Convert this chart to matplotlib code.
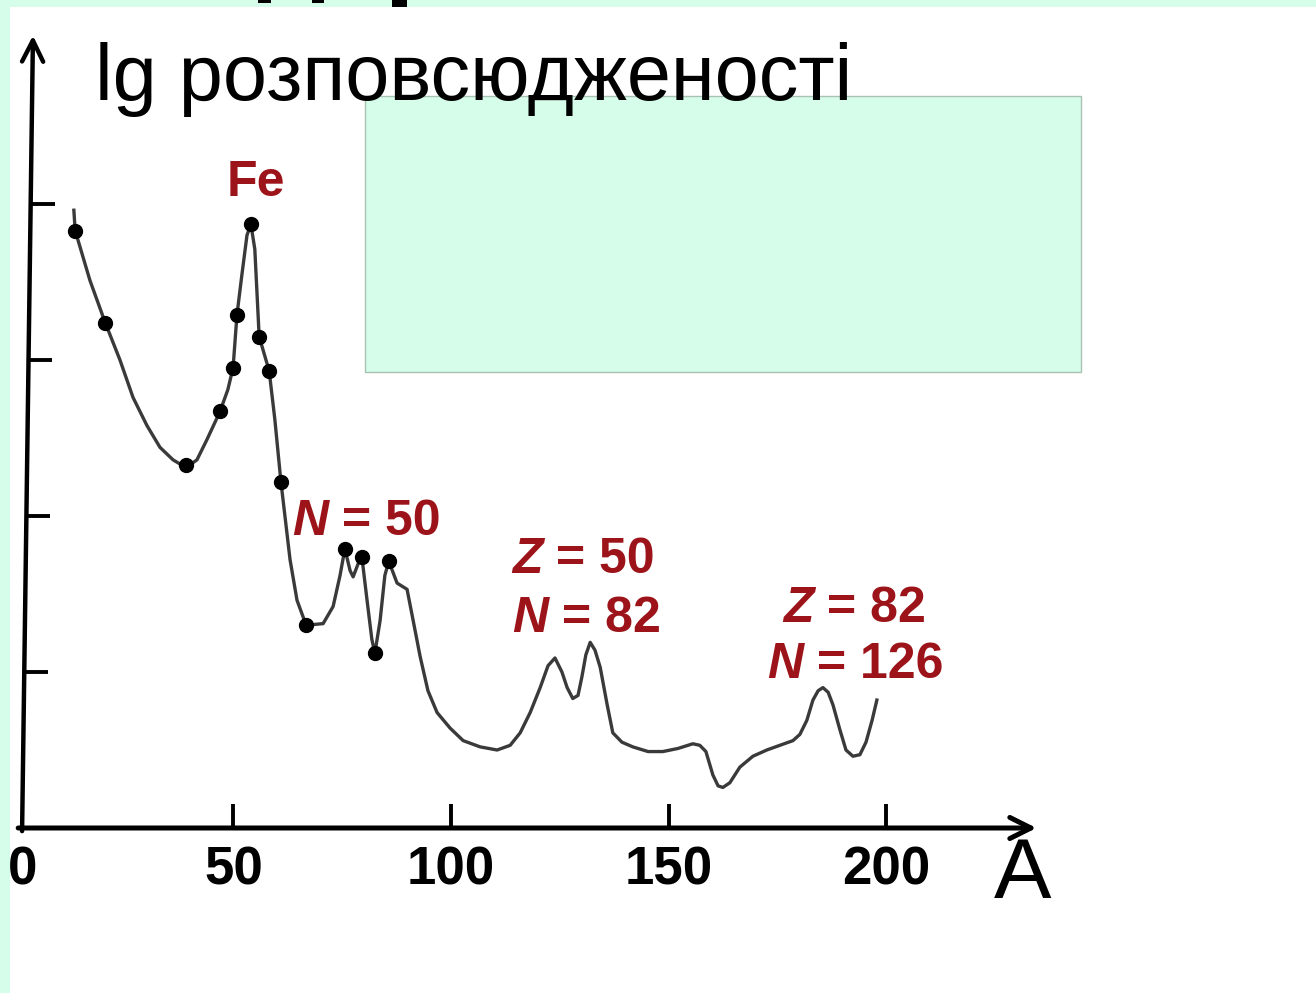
import matplotlib
matplotlib.use("Agg")
import matplotlib.pyplot as plt
from matplotlib.patches import Rectangle

plt.rcParams["font.family"] = ["Liberation Sans", "DejaVu Sans"]

# abundance curve (mass number A vs lg of abundance, arbitrary units)
mass_curve = [13.3, 13.6, 17.0, 20.5, 23.9, 26.9, 30.1, 33.1, 36.1, 39.1,
              41.6, 43.9, 46.9, 48.7, 49.9, 50.8, 51.9, 53.1, 54.0, 54.9,
              55.9, 58.2, 59.5, 60.9, 63.0, 64.6, 66.7, 70.6, 72.9, 74.5,
              75.6, 76.8, 77.5, 78.6, 79.5, 80.7, 81.8, 82.5, 83.7, 84.8,
              85.7, 87.6, 89.9, 91.3, 92.9, 94.7, 96.8, 99.8, 102.8, 106.7,
              110.6, 113.6, 115.9, 118.2, 120.5, 122.3, 123.9, 125.5, 126.7, 128.0,
              129.2, 130.1, 131.0, 132.0, 133.1, 134.3, 135.9, 137.2, 139.3, 141.8,
              145.3, 148.7, 152.2, 155.6, 157.2, 158.6, 160.2, 161.4, 162.5, 164.1,
              166.4, 169.4, 172.6, 175.6, 178.6, 180.2, 181.8, 183.2, 184.4, 185.5,
              186.7, 187.8, 189.4, 190.8, 192.4, 194.0, 195.4, 196.8, 197.9]
lg_curve = [3.96, 3.83, 3.51, 3.24, 3.00, 2.76, 2.58, 2.44, 2.36, 2.31,
            2.36, 2.49, 2.67, 2.81, 2.95, 3.29, 3.54, 3.80, 3.87, 3.71,
            3.15, 2.93, 2.62, 2.22, 1.72, 1.46, 1.30, 1.31, 1.42, 1.62,
            1.79, 1.65, 1.61, 1.69, 1.74, 1.46, 1.21, 1.12, 1.33, 1.62,
            1.71, 1.57, 1.53, 1.33, 1.10, 0.88, 0.74, 0.64, 0.56, 0.52,
            0.50, 0.53, 0.61, 0.74, 0.90, 1.04, 1.09, 1.00, 0.90, 0.83,
            0.85, 0.97, 1.11, 1.19, 1.14, 1.03, 0.79, 0.61, 0.55, 0.52,
            0.49, 0.49, 0.51, 0.54, 0.53, 0.49, 0.34, 0.27, 0.26, 0.29,
            0.39, 0.46, 0.50, 0.53, 0.56, 0.60, 0.69, 0.82, 0.88, 0.90,
            0.87, 0.79, 0.63, 0.50, 0.46, 0.47, 0.55, 0.69, 0.82]

# measured points
mass_pts = [13.6, 20.5, 39.1, 46.9, 49.9, 50.8, 54.0, 55.9, 58.2, 60.9,
            66.7, 75.6, 79.5, 82.5, 85.7]
lg_pts = [3.83, 3.24, 2.33, 2.67, 2.95, 3.29, 3.87, 3.15, 2.93, 2.22,
          1.30, 1.79, 1.74, 1.12, 1.71]

x_ticks = [0, 50, 100, 150, 200]
y_ticks = [1, 2, 3, 4]

# labels: (italic letter, rest, x, baseline y)
magic_labels = [
    ("N", " = 50", 63.4, 1.88),
    ("Z", " = 50", 114.0, 1.635),
    ("N", " = 82", 114.0, 1.256),
    ("Z", " = 82", 176.3, 1.32),
    ("N", " = 126", 172.6, 0.96),
]

MINT = "#d6fcea"
RED = "#9c1419"
W, H = 1316, 993

fig = plt.figure(figsize=(W / 100, H / 100), dpi=100, facecolor=MINT)
ax = fig.add_axes([0, 0, 1, 1])
ax.set_xlim(-16 / 4.35, 1300 / 4.35)
ax.set_ylim(-165 / 156, 828 / 156)
ax.axis("off")

# white page
fig.add_artist(Rectangle((10 / W, 0), 1, 1 - 7 / H, transform=fig.transFigure,
                         facecolor="white", edgecolor="none", zorder=-5))
# bits of a cut off heading above
for x0, x1, h in [(258, 271, 3), (312, 324, 3), (392, 407, 7)]:
    fig.add_artist(Rectangle((x0 / W, 1 - h / H), (x1 - x0) / W, h / H,
                             transform=fig.transFigure, facecolor="black",
                             edgecolor="none", zorder=-4))
# empty mint box
ax.add_patch(Rectangle((365 / W, 1 - 372 / H), (1081 - 365) / W, (372 - 96) / H,
                       transform=fig.transFigure, facecolor=MINT,
                       edgecolor="#a9c2b6", lw=1, zorder=1))

# axes with arrows
ax.annotate("", xy=(3.9, 5.08), xytext=(1.4, -0.02),
            arrowprops=dict(arrowstyle="->", lw=3.2, color="black",
                            mutation_scale=38, shrinkA=0, shrinkB=0))
ax.annotate("", xy=(234.6, 0), xytext=(0.5, 0),
            arrowprops=dict(arrowstyle="->", lw=3.6, color="black",
                            mutation_scale=38, shrinkA=0, shrinkB=0))

for t in x_ticks[1:]:
    ax.plot([t, t], [0, 0.155], color="black", lw=2.8, solid_capstyle="butt")
for t in y_ticks:
    x_ax = 1.4 + 2.5 * t / 5.06
    ax.plot([x_ax, x_ax + 5.5], [t, t], color="black", lw=2.8,
            solid_capstyle="butt")

tick_font = dict(fontsize=38, fontweight="bold", ha="center", va="center")
for t in x_ticks:
    ax.text(1.6 if t == 0 else t, -0.27, str(t), **tick_font)
ax.text(231.5, -0.31, "A", fontsize=62, ha="center", va="center")
ax.text(18.2, 4.667, "lg розповсюдженості", fontsize=57, va="baseline",
        zorder=3)

# curve and points
ax.plot(mass_curve, lg_curve, color="#3a3a3a", lw=2.4,
        solid_joinstyle="round", zorder=4)
ax.plot(mass_pts, lg_pts, "o", color="black", ms=10, zorder=5)

ax.text(55.2, 4.05, "Fe", color=RED, fontsize=36, fontweight="bold",
        ha="center", va="baseline")
for letter, rest, x, y in magic_labels:
    t1 = ax.text(x, y, letter, color=RED, fontsize=36, fontweight="bold",
                 fontstyle="italic", va="baseline")
    ax.annotate(rest, xy=(1, 0), xycoords=t1, color=RED, fontsize=36,
                fontweight="bold", va="bottom", ha="left")

fig.savefig("out.png", dpi=100, facecolor=MINT)
